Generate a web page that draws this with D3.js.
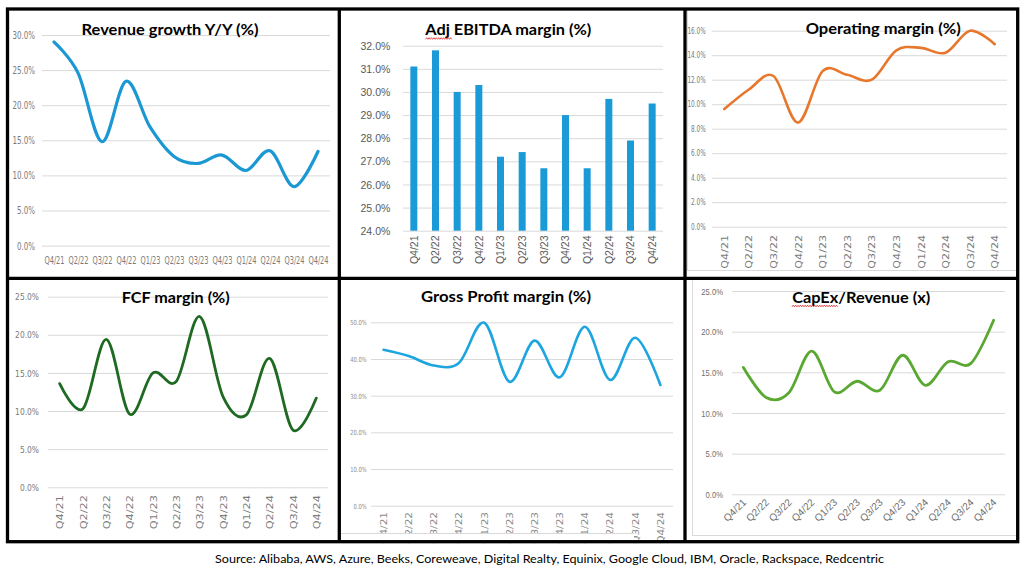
<!DOCTYPE html>
<html><head><meta charset="utf-8">
<script src="https://cdn.jsdelivr.net/npm/d3@7"></script>
<style>body{margin:0;background:#fff;} svg{display:block;}</style>
</head><body>
<svg id="c" width="1026" height="565"></svg>
<script>
// ---------------- DATA ----------------
const quarters = ["Q4/21","Q2/22","Q3/22","Q4/22","Q1/23","Q2/23","Q3/23","Q4/23","Q1/24","Q2/24","Q3/24","Q4/24"];
const revenueGrowth   = [29.0,24.6,14.8,23.4,16.9,12.7,11.7,12.9,10.7,13.5,8.4,13.4];
const ebitdaMargin    = [31.1,31.8,30.0,30.3,27.2,27.4,26.7,29.0,26.7,29.7,27.9,29.5];
const operatingMargin = [9.6,11.2,12.3,8.5,12.7,12.4,12.0,14.4,14.6,14.2,16.0,14.9];
const fcfMargin       = [13.6,10.3,19.4,9.6,15.0,13.9,22.4,11.9,9.5,16.9,7.5,11.7];
const grossMargin     = [42.5,40.8,38.2,39.0,49.9,33.8,45.0,35.0,48.8,34.3,45.8,32.9];
const capexRevenue    = [15.6,11.9,12.5,17.6,12.6,13.9,12.8,17.1,13.4,16.3,16.1,21.4];

const revenueTicks   = [0,5,10,15,20,25,30];
const ebitdaTicks    = [24,25,26,27,28,29,30,31,32];
const operatingTicks = [0,2,4,6,8,10,12,14,16];
const fcfTicks       = [0,5,10,15,20,25];
const grossTicks     = [0,10,20,30,40,50];
const capexTicks     = [0,5,10,15,20,25];

const chartTitles = ["Revenue growth Y/Y (%)","Adj EBITDA margin (%)","Operating margin (%)","FCF margin (%)","Gross Profit margin (%)","CapEx/Revenue (x)"];
const sourceText = "Source: Alibaba, AWS, Azure, Beeks, Coreweave, Digital Realty, Equinix, Google Cloud, IBM, Oracle, Rackspace, Redcentric";

// ---------------- DRAW ----------------
const svg = d3.select("#c");
const NARROW = "'Liberation Sans Narrow','DejaVu Sans Condensed','Roboto Condensed',sans-serif";
const REG = "'Liberation Sans',Arial,sans-serif";
const TITLE = "Lato,'Open Sans',sans-serif";

function squeeze(sel, sx){
  sel.each(function(){
    const w = this.getComputedTextLength();
    if (w>0 && Math.abs(sx-1)>0.01) d3.select(this).attr("textLength", w*sx).attr("lengthAdjust","spacingAndGlyphs");
  });
}

function styleY(ya, c){
  ya.select(".domain").remove();
  ya.selectAll(".tick line").attr("stroke","#d9d9d9").attr("stroke-width",1);
  const t = ya.selectAll(".tick text")
    .attr("font-family", c.yFont).attr("font-size", c.yFs).attr("fill", c.yColor)
    .attr("dy","0.34em");
  squeeze(t, c.ySx);
}

function styleX(xa, c){
  xa.select(".domain").remove();
  xa.selectAll(".tick line").remove();
  const t = xa.selectAll(".tick text")
    .attr("font-family", c.xFont).attr("font-size", c.xFs).attr("fill", c.xColor);
  if (c.xMode === "h"){
    t.attr("x",0).attr("y",0).attr("dy", null).attr("text-anchor","middle")
     .attr("transform", `translate(0,${c.xEnd - c.yb}) scale(${c.xSx},1)`);
    return;
  } else if (c.xMode === "v"){
    t.attr("x",0).attr("y",0).attr("dy",null).attr("text-anchor","end")
     .attr("transform", `translate(${c.xFs*0.36},${c.xEnd - c.yb}) rotate(-90)`);
  } else {
    t.attr("x",0).attr("y",0).attr("dy",null).attr("text-anchor","end")
     .attr("transform", `translate(${c.xDx},${c.xEnd - c.yb}) rotate(-45)`);
  }
  squeeze(t, c.xSx);
}

function yAxis(c, y){
  return d3.axisLeft(y).tickValues(c.ticks).tickSize(-(c.x1-c.x0)).tickPadding(c.ypad)
    .tickFormat(d => d.toFixed(1) + "%");
}

function linePanel(c){
  const x = d3.scalePoint().domain(quarters).range([c.x0, c.x1]).padding(0.5);
  const y = d3.scaleLinear().domain([c.ticks[0], c.ticks[c.ticks.length-1]]).range([c.yb, c.yt]);
  const g = svg.append("g");
  const ya = g.append("g").attr("transform",`translate(${c.x0},0)`).call(yAxis(c,y));
  styleY(ya, c);
  const xa = g.append("g").attr("transform",`translate(0,${c.yb})`).call(d3.axisBottom(x).tickSize(0));
  styleX(xa, c);
  g.append("path").datum(c.values)
    .attr("fill","none").attr("stroke",c.color).attr("stroke-width",c.lw)
    .attr("stroke-linecap","round").attr("stroke-linejoin","round")
    .attr("d", d3.line().x((d,i)=>x(quarters[i])).y(d=>y(d)).curve(d3.curveCardinal.tension(0)));
  return g;
}

function barPanel(c){
  const x = d3.scaleBand().domain(quarters).range([c.x0, c.x1]).paddingInner(0.677).paddingOuter(0.3385);
  const y = d3.scaleLinear().domain([c.ticks[0], c.ticks[c.ticks.length-1]]).range([c.yb, c.yt]);
  const g = svg.append("g");
  const ya = g.append("g").attr("transform",`translate(${c.x0},0)`).call(yAxis(c,y));
  styleY(ya, c);
  g.selectAll("rect.bar").data(c.values).join("rect").attr("class","bar")
    .attr("x",(d,i)=>x(quarters[i])).attr("width",x.bandwidth())
    .attr("y",d=>y(d)).attr("height",d=>y(c.ticks[0])-y(d)).attr("fill",c.color);
  const xa = g.append("g").attr("transform",`translate(0,${c.yb})`).call(d3.axisBottom(x).tickSize(0));
  styleX(xa, c);
  return g;
}

// chart-area light borders (Excel chart frames)
const frame = svg.append("g").attr("stroke","#d9d9d9").attr("stroke-width",1).attr("fill","none");
frame.append("line").attr("x1",687.5).attr("x2",687.5).attr("y1",10).attr("y2",270.5);
frame.append("line").attr("x1",687).attr("x2",1017).attr("y1",270.5).attr("y2",270.5);
frame.append("line").attr("x1",692.5).attr("x2",692.5).attr("y1",280).attr("y2",535.5);
frame.append("line").attr("x1",692).attr("x2",1017).attr("y1",535.5).attr("y2",535.5);

// Panel 1
linePanel({values:revenueGrowth, ticks:revenueTicks, x0:42, x1:330, yb:245.6, yt:35, ypad:7,
  yFont:NARROW, yFs:10, ySx:0.79, yColor:"#7b7b7b",
  xFont:NARROW, xFs:10, xSx:0.74, xColor:"#7b7b7b", xMode:"h", xEnd:264,
  color:"#1b98d3", lw:3.2});

// Panel 2
barPanel({values:ebitdaMargin, ticks:ebitdaTicks, x0:403, x1:663, yb:230.7, yt:45.7, ypad:12.7,
  yFont:REG, yFs:10.5, ySx:1, yColor:"#595959",
  xFont:REG, xFs:10.5, xSx:1, xColor:"#595959", xMode:"v", xEnd:235.5,
  color:"#1a9bd7"});

// Panel 3
linePanel({values:operatingMargin, ticks:operatingTicks, x0:712, x1:1007, yb:226.7, yt:30.7, ypad:6.3,
  yFont:NARROW, yFs:8, ySx:0.8, yColor:"#7b7b7b",
  xFont:NARROW, xFs:8.5, xSx:1.45, xColor:"#7b7b7b", xMode:"v", xEnd:235,
  color:"#e8772e", lw:2.6});

// Panel 4
linePanel({values:fcfMargin, ticks:fcfTicks, x0:48, x1:328, yb:487.3, yt:296.7, ypad:9,
  yFont:NARROW, yFs:9.3, ySx:0.9, yColor:"#7b7b7b",
  xFont:NARROW, xFs:9, xSx:1.4, xColor:"#7b7b7b", xMode:"v", xEnd:495,
  color:"#1f6a22", lw:2.8});

// Panel 5
linePanel({values:grossMargin, ticks:grossTicks, x0:371, x1:673, yb:505.7, yt:322.3, ypad:4.3,
  yFont:NARROW, yFs:7, ySx:0.82, yColor:"#8a8a8a",
  xFont:NARROW, xFs:8, xSx:1.46, xColor:"#8a8a8a", xMode:"v", xEnd:512,
  color:"#1ca5df", lw:2.6});
// clipped label strip in Gross Profit chart
svg.append("rect").attr("x",341).attr("y",533.5).attr("width",293).attr("height",7).attr("fill","#fff");
svg.append("line").attr("x1",341).attr("x2",634).attr("y1",533.5).attr("y2",533.5).attr("stroke","#d9d9d9");

// Panel 6
linePanel({values:capexRevenue, ticks:capexTicks, x0:732, x1:1005, yb:494.3, yt:291, ypad:9,
  yFont:REG, yFs:9.3, ySx:0.82, yColor:"#6f6f6f",
  xFont:REG, xFs:10, xSx:1, xColor:"#6f6f6f", xMode:"d", xDx:3, xEnd:503,
  color:"#5aa832", lw:2.8});

// Titles
const titlePos = [[170,35,177],[508.3,35,166],[883.2,34.3,155],[175.8,303.3,108],[506,302.3,170],[861.2,303.3,138]];
chartTitles.forEach((t,i)=>{
  const p = titlePos[i];
  svg.append("text").text(t).attr("x",p[0]).attr("y",p[1]).attr("text-anchor","middle")
    .attr("font-family",TITLE).attr("font-weight",700).attr("font-size",14.5).attr("fill","#000")
    .attr("textLength",p[2]).attr("lengthAdjust","spacingAndGlyphs");
});

// spell-check squiggles
function squiggle(x0,x1,y){
  const pts=[]; let k=0;
  for(let x=x0;x<=x1;x+=1.2){ pts.push([x, y + (k%2? -0.8:0.8)]); k++; }
  svg.append("path").attr("d", d3.line()(pts)).attr("fill","none").attr("stroke","#e02020").attr("stroke-width",0.8);
}
squiggle(425.5,453,38.5);
squiggle(792,838.5,306);

// Panel borders
const b = svg.append("g").attr("stroke","#000").attr("stroke-width",3.3).attr("fill","none");
b.append("rect").attr("x",7.5).attr("y",9).attr("width",1010.2).attr("height",532.7);
b.append("line").attr("x1",7.5).attr("x2",1017.7).attr("y1",278.3).attr("y2",278.3);
b.append("line").attr("x1",339.3).attr("x2",339.3).attr("y1",9).attr("y2",541.7);
b.append("line").attr("x1",685).attr("x2",685).attr("y1",9).attr("y2",541.7);

// Source
svg.append("text").text(sourceText).attr("x",215).attr("y",563).attr("font-family",TITLE)
  .attr("font-size",12).attr("fill","#000").attr("textLength",669).attr("lengthAdjust","spacingAndGlyphs");
</script>
</body></html>
